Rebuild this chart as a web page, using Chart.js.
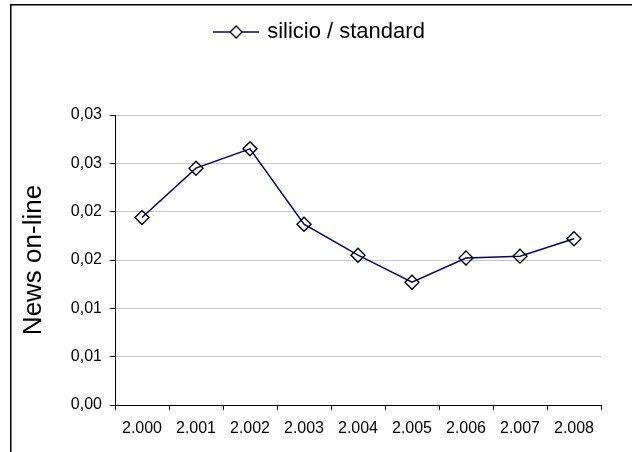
<!DOCTYPE html>
<html>
<head>
<meta charset="utf-8">
<script src="https://cdn.jsdelivr.net/npm/chart.js@4/dist/chart.umd.min.js"></script>
<style>
  html, body { margin: 0; padding: 0; background: #fff; }
  #wrap { width: 632px; height: 452px; }
</style>
</head>
<body>
<div id="wrap"><canvas id="c" width="632" height="452"></canvas></div>
<script>
// Years on the category axis
const years = ['2.000', '2.001', '2.002', '2.003', '2.004', '2.005', '2.006', '2.007', '2.008'];
// silicio / standard ratio per year
const ratio = [0.0194, 0.0245, 0.0265, 0.0187, 0.0155, 0.0127, 0.0152, 0.0154, 0.0172];
// Value axis labels (two decimals, comma separator)
const yTickLabels = ['0,00', '0,01', '0,01', '0,02', '0,02', '0,03', '0,03'];
const seriesName = 'silicio / standard';
const axisTitle = 'News on-line';

const FONT = "'Liberation Sans', Arial, sans-serif";
const LINE_COLOR = '#000080';

// Legend marker: a short line with a hollow diamond on it
function legendMarker() {
  const c = document.createElement('canvas');
  c.width = 46; c.height = 16;
  const g = c.getContext('2d');
  g.strokeStyle = LINE_COLOR; g.lineWidth = 1.5;
  g.beginPath(); g.moveTo(0, 8); g.lineTo(46, 8); g.stroke();
  g.beginPath();
  g.moveTo(23, 2); g.lineTo(29, 8); g.lineTo(23, 14); g.lineTo(17, 8); g.closePath();
  g.fillStyle = '#fff'; g.fill();
  g.strokeStyle = '#000'; g.lineWidth = 1.3; g.stroke();
  return c;
}
const marker = legendMarker();

// Outer frame (top and left edges visible)
const framePlugin = {
  id: 'frame',
  afterDraw(chart) {
    const ctx = chart.ctx;
    ctx.save();
    ctx.strokeStyle = '#000';
    ctx.lineWidth = 1.5;
    ctx.beginPath();
    ctx.moveTo(10.75, 460); ctx.lineTo(10.75, 4.75); ctx.lineTo(640, 4.75);
    ctx.stroke();
    ctx.restore();
  }
};

// Legend band above the plot, with the entry nudged right
const legendBand = {
  id: 'legendBand',
  beforeUpdate(chart) {
    const lg = chart.legend;
    if (lg && !lg._banded) {
      const fit = lg.fit;
      lg.fit = function () { fit.call(this); this.height = 104; };
      lg._banded = true;
    }
  },
  afterLayout(chart) {
    const lg = chart.legend;
    if (lg) { lg.left += 11; lg.right += 11; }
  }
};

new Chart(document.getElementById('c'), {
  type: 'line',
  data: {
    labels: years,
    datasets: [{
      label: seriesName,
      data: ratio,
      borderColor: LINE_COLOR,
      borderWidth: 1.5,
      backgroundColor: 'transparent',
      tension: 0,
      pointStyle: 'rectRot',
      pointRadius: 7,
      pointHoverRadius: 7,
      pointBorderColor: '#000',
      pointBackgroundColor: 'rgba(0,0,0,0)',
      pointBorderWidth: 1.4
    }]
  },
  options: {
    responsive: false,
    animation: false,
    layout: { padding: { left: 18, right: 31, top: 11, bottom: 0 } },
    plugins: {
      tooltip: { enabled: false },
      legend: {
        position: 'top',
        labels: {
          color: '#000',
          font: { family: FONT, size: 22 },
          usePointStyle: true,
          pointStyleWidth: 40,
          padding: 10,
          generateLabels(chart) {
            return chart.data.datasets.map((ds, i) => ({
              text: ds.label,
              pointStyle: marker,
              fillStyle: '#fff',
              strokeStyle: '#000',
              lineWidth: 0,
              hidden: false,
              datasetIndex: i,
              fontColor: '#000'
            }));
          }
        }
      }
    },
    scales: {
      x: {
        type: 'category',
        offset: true,
        grid: {
          offset: true,
          drawOnChartArea: false,
          tickLength: 5,
          tickColor: '#000',
          tickWidth: 1
        },
        border: { color: '#000', width: 1 },
        ticks: {
          color: '#000',
          font: { family: FONT, size: 16 },
          padding: 9,
          maxRotation: 0,
          autoSkip: false
        },
        afterFit(scale) { scale.height = 47; }
      },
      y: {
        min: 0,
        max: 0.03,
        grid: {
          color: '#c8c8c8',
          lineWidth: 1,
          tickLength: 5,
          tickColor: '#000'
        },
        border: { color: '#000', width: 1 },
        ticks: {
          stepSize: 0.005,
          color: '#000',
          font: { family: FONT, size: 16 },
          padding: 8,
          callback: (v, i) => yTickLabels[i]
        },
        title: {
          display: true,
          text: axisTitle,
          color: '#000',
          font: { family: FONT, size: 26 },
          padding: { top: 0, bottom: 0 }
        },
        afterFit(scale) { scale.width = 97; }
      }
    }
  },
  plugins: [legendBand, framePlugin]
});
</script>
</body>
</html>
